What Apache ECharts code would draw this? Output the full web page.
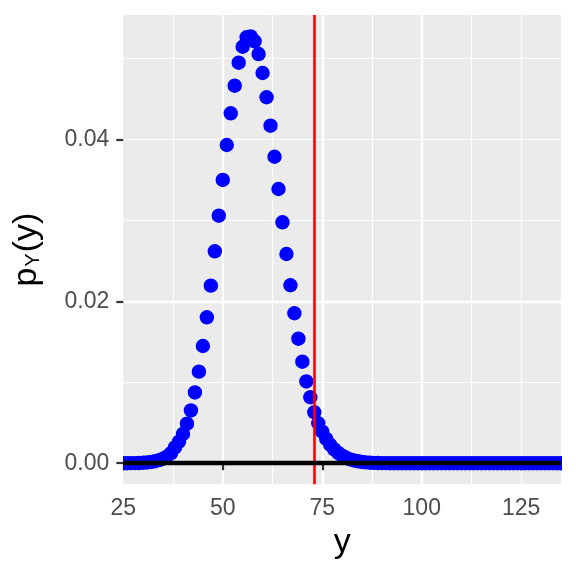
<!DOCTYPE html>
<html>
<head>
<meta charset="utf-8">
<script src="https://cdn.jsdelivr.net/npm/echarts@6/dist/echarts.min.js"></script>
<style>
html,body{margin:0;padding:0;background:#ffffff;}
#chart{width:576px;height:576px;}
</style>
</head>
<body>
<div id="chart"></div>
<script>
// ---- data ----
const yValues = [25,26,27,28,29,30,31,32,33,34,35,36,37,38,39,40,41,42,43,44,45,46,47,48,49,
  50,51,52,53,54,55,56,57,58,59,60,61,62,63,64,65,66,67,68,69,70,71,72,73,74,75,76,77,78,79,
  80,81,82,83,84,85,86,87,88,89,90,91,92,93,94,95,96,97,98,99,100,101,102,103,104,105,106,107,
  108,109,110,111,112,113,114,115,116,117,118,119,120,121,122,123,124,125,126,127,128,129,130,
  131,132,133,134,135];
const pValues = [0.000004,0.000007,0.000012,0.00002,0.000035,0.00006,0.0001,0.00016,0.00025,0.00038,
  0.00057,0.00083,0.00125,0.00195,0.00267,0.00362,0.00489,0.00652,0.00874,0.01131,
  0.01448,0.01802,0.02193,0.02617,0.03057,0.03498,0.03930,0.04321,0.04662,0.04946,
  0.05143,0.05260,0.05271,0.05210,0.05053,0.04819,0.04519,0.04168,0.03785,0.03386,
  0.02975,0.02584,0.02198,0.01852,0.01538,0.01254,0.01010,0.00815,0.00630,0.00494,
  0.00390,0.00300,0.00228,0.00171,0.00127,0.00093,0.00067,0.00048,0.00034,0.00024,
  0.00016,0.00011,0.00007,0.00005,0.00003,0.00002,0.00001,0,0,0,
  0,0,0,0,0,0,0,0,0,0,
  0,0,0,0,0,0,0,0,0,0,
  0,0,0,0,0,0,0,0,0,0,
  0,0,0,0,0,0,0,0,0,0,0];
const xTickLabels = [25, 50, 75, 100, 125];
const yTickLabels = [0, 0.02, 0.04];
const redLineAt = 73;
const blackLineAt = 0;

const FONT = '"Liberation Sans", Arial, Helvetica, sans-serif';
const chart = echarts.init(document.getElementById('chart'), null, {renderer: 'canvas'});

const pointData = yValues.map((v, i) => [v, pValues[i]]);

const option = {
  animation: false,
  backgroundColor: '#ffffff',
  grid: {
    left: 123.3, right: 15, top: 15, bottom: 91.7,
    show: true, backgroundColor: '#EBEBEB', borderWidth: 0,
    containLabel: false, outerBoundsMode: 'none'
  },
  xAxis: [
    {
      type: 'value', min: 25, max: 135, interval: 25,
      axisLine: {show: false},
      axisTick: {show: true, customValues: xTickLabels, length: 7, lineStyle: {color: '#333333', width: 2.2}},
      axisLabel: {customValues: xTickLabels, fontSize: 23, color: '#4D4D4D', fontFamily: FONT, margin: 13},
      splitLine: {show: true, showMinLine: false, showMaxLine: false, lineStyle: {color: '#ffffff', width: 2.4}},
      name: 'y', nameLocation: 'middle', nameGap: 38,
      nameTextStyle: {fontSize: 34, color: '#000000', fontFamily: FONT}
    },
    {
      type: 'value', min: 25, max: 135, interval: 12.5, position: 'bottom',
      axisLine: {show: false}, axisTick: {show: false}, axisLabel: {show: false},
      splitLine: {show: true, showMinLine: false, showMaxLine: false, lineStyle: {color: '#ffffff', width: 1.2}}
    }
  ],
  yAxis: [
    {
      type: 'value', min: -0.0026, max: 0.05535, splitNumber: 3,
      axisLine: {show: false},
      axisTick: {show: true, customValues: yTickLabels, length: 7, lineStyle: {color: '#333333', width: 2.2}},
      axisLabel: {customValues: yTickLabels, fontSize: 23, color: '#4D4D4D', fontFamily: FONT, margin: 14,
        formatter: v => Number(v).toFixed(2)},
      splitLine: {show: true, showMinLine: false, showMaxLine: false, lineStyle: {color: '#ffffff', width: 2.4}},
      name: '{m|p}{s|Y}{m|(y)}', nameLocation: 'middle', nameGap: 80, nameRotate: 90,
      nameTextStyle: {
        fontSize: 34, color: '#000000', fontFamily: FONT,
        rich: {
          m: {fontSize: 34, lineHeight: 34, color: '#000000', fontFamily: FONT},
          s: {fontSize: 20, lineHeight: 26, verticalAlign: 'bottom', color: '#000000', fontFamily: FONT, padding: [0, 1, 0, 1]}
        }
      }
    },
    {
      type: 'value', min: -0.0026, max: 0.05535, splitNumber: 6, position: 'left',
      axisLine: {show: false}, axisTick: {show: false}, axisLabel: {show: false},
      splitLine: {show: true, showMinLine: false, showMaxLine: false, lineStyle: {color: '#ffffff', width: 1.2}}
    }
  ],
  series: [
    {
      type: 'custom',
      xAxisIndex: 0, yAxisIndex: 0,
      clip: true,
      z: 2,
      data: pointData,
      renderItem: function (params, api) {
        const pt = api.coord([api.value(0), api.value(1)]);
        return {type: 'circle', shape: {cx: pt[0], cy: pt[1], r: 7.2}, style: {fill: '#0000FF'}};
      }
    },
    {
      type: 'line', xAxisIndex: 0, yAxisIndex: 0, data: [], z: 3,
      markLine: {
        silent: true, symbol: 'none', z: 5, animation: false,
        label: {show: false},
        lineStyle: {color: '#FF0000', width: 2.6, type: 'solid'},
        data: [{xAxis: redLineAt}]
      }
    },
    {
      type: 'line', xAxisIndex: 0, yAxisIndex: 0, data: [], z: 4,
      markLine: {
        silent: true, symbol: 'none', z: 6, animation: false,
        label: {show: false},
        lineStyle: {color: '#000000', width: 4.4, type: 'solid'},
        data: [{yAxis: blackLineAt}]
      }
    }
  ]
};
chart.setOption(option);
</script>
</body>
</html>
